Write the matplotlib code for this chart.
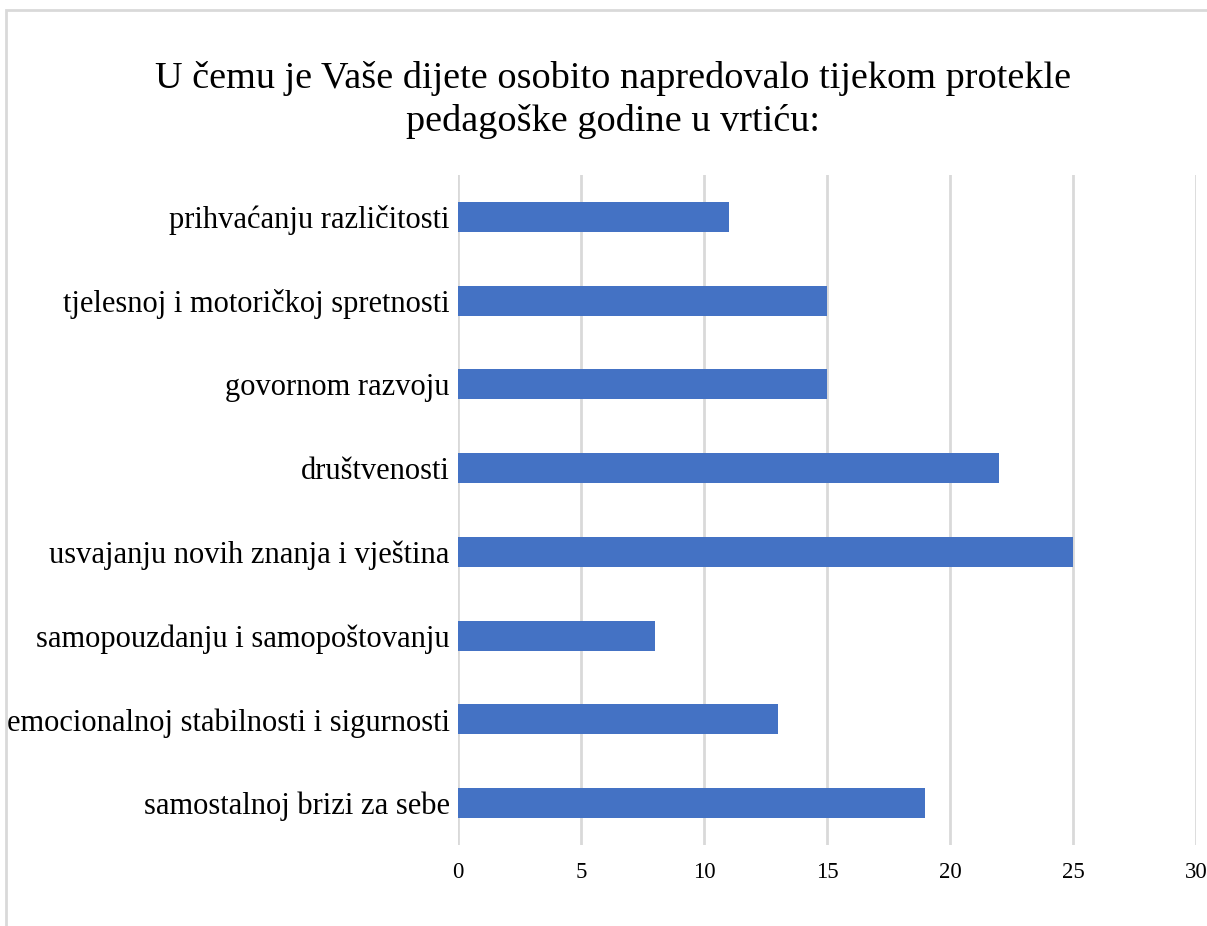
import matplotlib.pyplot as plt
from matplotlib.patches import Rectangle

categories = [
    'samostalnoj brizi za sebe',
    'emocionalnoj stabilnosti i sigurnosti',
    'samopouzdanju i samopoštovanju',
    'usvajanju novih znanja i vještina',
    'društvenosti',
    'govornom razvoju',
    'tjelesnoj i motoričkoj spretnosti',
    'prihvaćanju različitosti',
]
values = [19, 13, 8, 25, 22, 15, 15, 11]
x_ticks = [0, 5, 10, 15, 20, 25, 30]

plt.rcParams['font.family'] = ['Liberation Serif', 'DejaVu Serif']

fig = plt.figure(figsize=(12.07, 9.26), dpi=100)
ax = fig.add_axes([0.3795, 0.0875, 0.6114, 0.7235])

# light frame round the chart area
fig.patches.append(Rectangle((6 / 1207, -0.1), 1.2, 1 - 10 / 926 + 0.1,
                             transform=fig.transFigure, fill=False,
                             edgecolor='#d9d9d9', linewidth=2))

ax.barh(range(len(categories)), values, height=0.36, color='#4472C4', zorder=3)

ax.set_xlim(0, 30)
ax.set_ylim(-0.5, len(categories) - 0.5)
ax.set_xticks(x_ticks)
ax.set_yticks(range(len(categories)))
ax.set_yticklabels(categories, fontsize=22)
ax.tick_params(axis='x', labelsize=16.5, length=0, pad=12)
ax.tick_params(axis='y', length=0, pad=6)
ax.grid(axis='x', color='#d9d9d9', linewidth=2, zorder=0)
for s in ax.spines.values():
    s.set_visible(False)

fig.text(613 / 1207, 1 - 100 / 926,
         'U čemu je Vaše dijete osobito napredovalo tijekom protekle\npedagoške godine u vrtiću:',
         ha='center', va='center', fontsize=27.5, linespacing=1.3)

fig.savefig('out.png', dpi=100)
